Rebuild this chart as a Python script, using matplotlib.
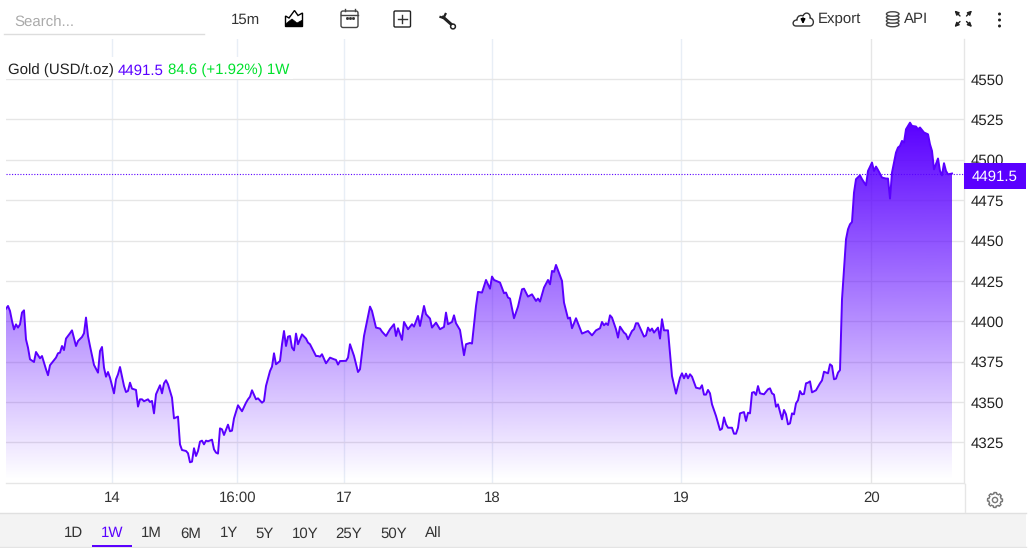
import numpy as np
import matplotlib
matplotlib.use("Agg")
import matplotlib.pyplot as plt
from matplotlib.patches import Rectangle, Circle, Polygon, FancyBboxPatch, PathPatch, Ellipse
from matplotlib.path import Path

# ---- data (15-minute bars, bar number / price) ----
bars = [0,1,2,3,4,5,6,7,8,9,10,11,12,14,15,17,18,20,21,22,23,25,26,27,28,29,30,32,33,35,36,38,39,40,41,42,44,46,47,48,49,50,51,52,54,55,56,57,59,60,61,62,63,65,66,67,68,69,71,72,73,74,75,77,78,79,80,81,83,84,86,87,88,90,91,92,93,94,95,96,97,98,99,100,101,103,104,105,106,107,108,109,111,112,113,114,116,118,120,121,122,123,125,126,128,129,130,132,133,134,135,137,138,139,140,141,142,143,144,145,146,148,150,151,152,155,156,157,158,160,162,164,165,166,167,
        170,171,172,174,176,177,179,182,183,185,187,188,190,192,194,195,196,198,199,201,203,204,206,207,209,210,212,213,215,217,219,220,221,223,224,225,227,229,230,232,233,235,236,238,240,242,243,244,247,249,250,251,252,254,256,258,259,261,263,265,266,267,269,271,272,273,274,275,278,279,281,282,283,285,288,291,293,295,297,298,299,300,301,302,303,305,306,307,309,310,311,313,314,315,316,319,320,321,322,323,324,326,327,328,329,331,333,
        335,337,338,339,340,341,342,343,345,347,348,349,350,351,352,353,355,357,358,359,360,361,363,364,365,366,367,369,370,371,372,373,374,375,376,377,379,381,382,383,384,385,386,388,389,390,391,392,393,394,395,396,397,398,399,400,401,402,403,405,407,408,409,411,412,413,414,415,416,417,418,
        420,421,422,423,424,425,427,428,430,431,433,434,435,436,438,440,441,442,443,445,446,447,448,449,450,452,453,455,456,457,459,461,462,463,464,466,467,468,469,470,471,473]
gold_price = [4407.8,4409.5,4406.4,4400.2,4395.0,4398.1,4396.1,4398.1,4405.4,4406.8,4388.8,4383.7,4376.5,4374.8,4381.0,4377.1,4378.5,4370.3,4366.6,4372.8,4374.4,4377.5,4380.2,4380.6,4384.7,4382.2,4389.3,4392.6,4394.4,4384.7,4387.8,4390.3,4392.6,4402.3,4390.9,4384.7,4373.0,4368.2,4381.6,4384.1,4371.3,4365.7,4368.6,4365.1,4355.4,4364.1,4367.2,4371.7,4360.0,4356.2,4356.9,4362.0,4358.3,4357.5,4347.2,4351.7,4351.7,4350.5,4351.7,4350.0,4350.7,4343.0,4354.8,4360.4,4355.4,4361.6,4363.5,4361.0,4352.7,4339.9,4341.0,4323.8,4320.3,4319.7,4318.3,4312.7,4313.1,4321.4,4316.6,4319.7,4325.5,4326.1,4323.8,4326.1,4325.7,4326.7,4320.7,4318.7,4318.1,4333.7,4333.1,4329.6,4336.0,4331.9,4332.3,4339.9,4348.0,4344.3,4349.6,4351.7,4353.3,4357.3,4351.7,4352.3,4349.6,4350.7,4360.0,4369.2,4371.9,4380.2,4373.4,4375.4,4385.8,4394.0,4384.7,4390.5,4390.9,4383.7,4382.0,4392.4,4385.8,4391.9,4389.3,4386.8,4385.8,4378.5,4378.5,4378.1,4379.6,4374.0,4377.5,4376.5,4376.1,4373.2,4375.4,
              4375.5,4377.5,4385.8,4378.6,4368.6,4370.3,4390.9,4409.1,4406.4,4396.1,4395.5,4393.6,4390.9,4395.1,4398.2,4390.9,4395.7,4388.5,4399.6,4395.1,4398.2,4396.7,4403.3,4397.1,4409.5,4404.4,4401.7,4396.1,4399.2,4395.1,4396.5,4405.4,4398.2,4399.6,4403.7,4398.8,4394.6,4379.0,4385.8,4386.6,4386.2,4409.5,4418.2,4417.8,4425.6,4420.2,4427.7,4425.6,4424.0,4417.4,4417.8,4414.7,4414.1,4401.9,4409.1,4419.8,4420.2,4415.3,4416.7,4412.6,4414.1,4412.2,4420.9,4425.6,4422.9,4431.2,4430.6,4434.9,4425.0,4411.6,4401.7,4402.3,4395.7,4401.9,4392.4,4394.0,4391.3,4394.4,4395.7,4399.6,4397.5,4398.8,4397.7,4403.7,4402.3,4395.1,4389.9,4396.7,4393.0,4392.0,4388.9,4394.0,4395.1,4398.8,4398.8,4390.5,4391.3,4396.1,4394.0,4395.5,4393.0,4396.1,4389.3,4401.3,4394.4,4394.4,4366.1,
              4355.2,4365.1,4367.8,4364.7,4367.6,4364.7,4367.2,4365.7,4358.9,4358.3,4360.4,4354.6,4354.6,4357.5,4355.4,4348.6,4341.4,4332.7,4333.5,4340.5,4336.2,4334.1,4334.1,4330.4,4330.4,4334.1,4343.0,4343.8,4338.3,4343.4,4343.0,4355.8,4356.2,4354.4,4359.9,4355.4,4354.8,4357.9,4358.5,4355.4,4354.6,4347.1,4348.6,4339.3,4345.1,4342.4,4336.2,4336.8,4343.0,4342.4,4349.2,4351.1,4356.8,4354.8,4355.0,4361.6,4362.0,4362.8,4356.0,4357.3,4361.6,4363.4,4368.8,4367.8,4373.4,4372.4,4364.1,4364.5,4368.2,4369.8,4413.6,
              4450.8,4457.0,4460.1,4461.5,4479.7,4488.0,4490.4,4488.0,4484.2,4493.1,4498.3,4493.1,4495.8,4493.7,4489.0,4488.4,4488.4,4476.0,4492.1,4504.5,4507.6,4508.6,4511.7,4510.7,4518.9,4523.0,4521.0,4520.6,4518.9,4520.0,4516.9,4515.8,4509.6,4505.5,4494.1,4500.8,4493.1,4490.4,4497.9,4493.1,4491.0,4491.5]
last_price = 4491.5
ytick_values = [4325,4350,4375,4400,4425,4450,4475,4500,4525,4550]
xtick_positions = [53.25,115.75,169.25,243.25,337.75,432.75]
xtick_labels = ["14","16:00","17","18","19","20"]
range_labels = ["1D","1W","1M","6M","1Y","5Y","10Y","25Y","50Y","All"]
range_centres = [73,112,151.5,191,229,264.5,305,349,394,433]

W, H = 1029, 548
PURPLE = "#5a00ff"
GREEN = "#00e12d"
GRID = "#e6e6e6"
INK = "#333333"
plt.rcParams["font.family"] = ["Liberation Sans", "DejaVu Sans"]
plt.rcParams["text.hinting"] = "no_hinting"
plt.rcParams["text.hinting_factor"] = 1
FS = 10.7
AX_BOTTOM = 482.8

fig = plt.figure(figsize=(W/100, H/100), dpi=100, facecolor="white")
ax = fig.add_axes([6/W, (H-AX_BOTTOM)/H, 958/W, 443.5/H])
ymax = 4300 + 443.5/1.615
ax.set_xlim(0, 479)
ax.set_ylim(4300, ymax)
ax.set_axisbelow(True)
ax.grid(True, axis="y", color=GRID, lw=1)
for i, xv in enumerate(xtick_positions):
    ax.axvline(xv, color="#e8eef6" if i < 5 else GRID, lw=1, zorder=0.5)
for s in ("top", "left"):
    ax.spines[s].set_visible(False)
for s in ("right", "bottom"):
    ax.spines[s].set_color(GRID)
    ax.spines[s].set_linewidth(1)
ax.yaxis.tick_right()
ax.set_yticks(ytick_values)
ax.set_xticks(xtick_positions)
ax.set_xticklabels(xtick_labels)
ax.tick_params(axis="y", length=0, pad=4.8, labelsize=FS, labelcolor="#222222")
ax.tick_params(axis="x", length=0, pad=6, labelsize=FS, labelcolor=INK)

# gradient area
poly = ax.fill_between(bars, gold_price, 4300, color="none", lw=0)
rgba = np.zeros((256, 1, 4))
rgba[..., :3] = matplotlib.colors.to_rgb(PURPLE)
rgba[:, 0, 3] = np.linspace(1, 0, 256)
top_v = max(gold_price)
im = ax.imshow(rgba, extent=(0, 479, 4302, top_v), origin="upper", aspect="auto",
               interpolation="bilinear", zorder=1.5)
im.set_clip_path(poly.get_paths()[0], transform=ax.transData)
ax.set_xlim(0, 479)
ax.set_ylim(4300, ymax)
ax.plot(bars, gold_price, color=PURPLE, lw=1.4, zorder=2, solid_joinstyle="round")
ax.axhline(last_price, color=PURPLE, lw=0.8, ls=(0, (1, 1.5)), zorder=2.5)

# page chrome drawn in pixel coordinates on top of the chart
ui = fig.add_axes([0, 0, 1, 1], facecolor="none")
ui.set_xlim(0, W)
ui.set_ylim(H, 0)
ui.axis("off")

def label(x, y, s, color=INK, ha="left", size=FS, **kw):
    ui.text(x, y + 0.5, s, color=color, ha=ha, va="center", fontsize=size, **kw)

# legend strip
ui.add_patch(Rectangle((6, 57), 287, 22, fc="white", ec="none", zorder=1))
label(8, 70, "Gold (USD/t.oz)", color="#222222", zorder=3)
label(117.3, 70, "4491.5", color=PURPLE, zorder=3)
label(167.5, 70, "84.6 (+1.92%) 1W", color=GREEN, zorder=3)

# last-price tag
ui.add_patch(Rectangle((964, 163), 62, 26, fc=PURPLE, ec="none", zorder=2))
label(995, 176.5, "4491.5", color="white", ha="center", zorder=3)

# bottom range bar
ui.add_patch(Rectangle((0, 513), 1026, 34, fc="#f3f3f3", ec="none", zorder=1))
ui.plot([0, 1026], [512.5, 512.5], color="#e0e0e0", lw=1, zorder=2)
ui.plot([0, 1026], [547, 547], color="#e4e4e4", lw=1, zorder=2)
ui.plot([964.5, 964.5], [484, 512], color=GRID, lw=1, zorder=2)
for c, s in zip(range_centres, range_labels):
    label(c, 533, s, color=PURPLE if s == "1W" else INK, ha="center", zorder=3)
ui.add_patch(Rectangle((92, 545), 40, 2, fc=PURPLE, ec="none", zorder=3))

# top toolbar
ui.plot([4, 204], [34, 34], color="#dddddd", lw=1)
label(14, 22, "Search...", color="#aaaaaa")
label(245.5, 19, "15m", ha="center")
label(818, 19, "Export", color="#333333")
label(904, 19, "API", color="#333333")

# area-chart icon
ui.add_patch(Polygon([(285.5, 26.5), (285.5, 16), (289, 18), (294.5, 10.5), (298, 15.5), (302.5, 13), (302.5, 26.5)],
                     closed=True, fc="white", ec="black", lw=1))
ui.add_patch(Polygon([(285.5, 26.5), (285.5, 24), (292, 19), (297, 23), (302.5, 20), (302.5, 26.5)],
                     closed=True, fc="black", ec="black", lw=0.5))
# calendar icon
ui.add_patch(FancyBboxPatch((341, 11), 17, 16.5, boxstyle="round,pad=0,rounding_size=2",
                            fc="white", ec="#444444", lw=1))
ui.plot([341, 358], [14.5, 14.5], color="#444444", lw=1)
ui.plot([344.5, 344.5], [8.5, 11], color="#444444", lw=1)
ui.plot([354.5, 354.5], [8.5, 11], color="#444444", lw=1)
ui.plot([346.5, 349.5, 352.5], [18, 18, 18], ls="none", marker="s", ms=1, color="#333333")
# plus box
ui.add_patch(FancyBboxPatch((394, 11), 16.5, 16, boxstyle="round,pad=0,rounding_size=1.2",
                            fc="white", ec="#222222", lw=1))
ui.plot([398, 406.5], [19, 19], color="#333333", lw=1)
ui.plot([402.2, 402.2], [15, 23], color="#333333", lw=1)
# wrench
ui.plot([443, 452], [17, 25], color="#222222", lw=2.2, solid_capstyle="round")
ui.plot([440.5, 443.5, 445.5], [17, 18, 14], color="#222222", lw=1.6)
ui.add_patch(Circle((453, 26.5), 2.4, fc="white", ec="#222222", lw=1.1, zorder=3))
# cloud
cloud = Path([(796, 26), (792, 26), (792, 20), (797, 20),
              (797, 15), (802, 15), (803, 16),
              (805, 11), (811, 13), (810, 18),
              (815, 19), (814, 26), (810, 26), (796, 26)],
             [Path.MOVETO, Path.CURVE4, Path.CURVE4, Path.CURVE4,
              Path.CURVE4, Path.CURVE4, Path.CURVE4,
              Path.CURVE4, Path.CURVE4, Path.CURVE4,
              Path.CURVE4, Path.CURVE4, Path.CURVE4, Path.LINETO])
ui.add_patch(PathPatch(cloud, fc="white", ec="#333333", lw=1))
ui.annotate("", xy=(803, 24), xytext=(803, 18), arrowprops=dict(arrowstyle="-|>", color="black", lw=1.2, mutation_scale=6, shrinkA=0, shrinkB=0))
# database
for yy in (24.5, 21, 17.5, 14):
    ui.add_patch(Ellipse((892.7, yy), 12.5, 4.5, fc="white", ec="#444444", lw=1))
# expand corners
for x0, y0, dx, dy in [(954.5, 10.5, 1, 1), (972, 10.5, -1, 1), (954.5, 27, 1, -1), (972, 27, -1, -1)]:
    ui.annotate("", xy=(x0, y0), xytext=(x0 + 5.5*dx, y0 + 5.5*dy),
                arrowprops=dict(arrowstyle="-|>", color="#222222", lw=1, mutation_scale=6,
                                shrinkA=0, shrinkB=0))
# kebab dots
for yy in (14, 20, 26):
    ui.add_patch(Circle((999.5, yy), 1.5, fc="#222222", ec="none"))
# gear
t = np.linspace(0, 2*np.pi, 97)
r = 7.5 - 1.3*(np.cos(8*t) < 0)
ui.add_patch(Polygon(np.c_[995 + r*np.cos(t), 500 + r*np.sin(t)], closed=True, fc="white", ec="#777777", lw=1))
ui.add_patch(Circle((995, 500), 2.6, fc="white", ec="#777777", lw=1))

fig.savefig("out.png", dpi=100, facecolor="white")
